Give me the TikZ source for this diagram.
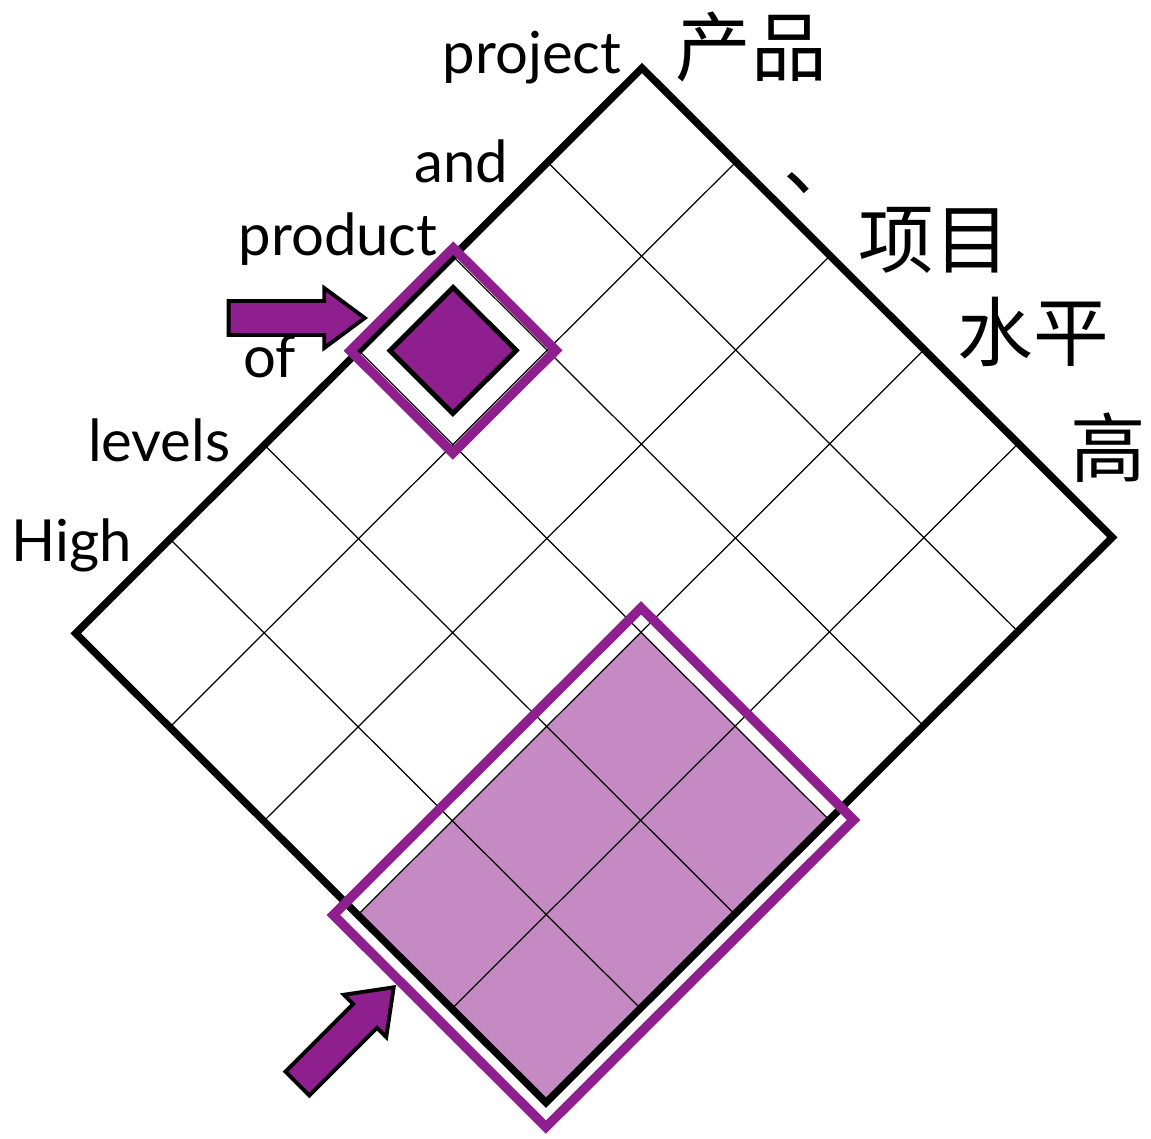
\documentclass[tikz,border=0pt]{standalone}
\usepackage{fontspec}
\setmainfont{Lato}
\newfontfamily\cjk{Noto Sans CJK SC}
\usetikzlibrary{shapes.arrows}

\definecolor{deepplum}{RGB}{143,31,143}
\definecolor{lightplum}{RGB}{197,138,195}

\tikzset{
	word/.style={font=\fontsize{16.5}{18}\selectfont, anchor=base east, inner sep=0pt},
	hanzi/.style={font=\cjk\fontsize{21.5}{24}\selectfont, inner sep=0pt},
	blockarrow/.style={single arrow, draw=black, fill=deepplum, line width=1.1pt, minimum height=1.36cm, inner sep=0.15cm, single arrow head extend=0.13cm, single arrow tip angle=73, anchor=tip},
	thingrid/.style={line width=0.35pt},
	frame/.style={line width=2.7pt, deepplum, line join=miter},
}

\begin{document}
\begin{tikzpicture}[x=0.01cm, y=-0.01cm]
	\def\cols{5};
	\def\rows{6};
	\def\pad{0.13};
	\useasboundingbox (0,0) rectangle (1151,1139);

	\begin{scope}[shift={(642,68)}, x={(0.94cm,-0.938cm)}, y={(-0.9433cm,-0.9417cm)}]
		\fill [lightplum] (3,3) -- (\cols,3) -- (\cols,\rows) -- (3,\rows) -- cycle;
		\foreach \i in {1,...,4}
			\draw [thingrid] (\i,0) -- (\i,\rows);
		\foreach \j in {1,...,5}
			\draw [thingrid] (0,\j) -- (\cols,\j);
		\draw [line width=2.1pt, line join=miter] (0,0) -- (\cols,0) -- (\cols,\rows) -- (0,\rows) -- cycle;

		\draw [line width=1.4pt, fill=deepplum, line join=miter] (0.165,2.165) -- (0.835,2.165) -- (0.835,2.835) -- (0.165,2.835) -- cycle;
		\draw [frame] (-0.045,1.955) -- (1.045,1.955) -- (1.045,3.045) -- (-0.045,3.045) -- cycle;
		\draw [frame] ({3-\pad},{3-\pad}) -- ({\cols+\pad},{3-\pad}) -- ({\cols+\pad},{\rows+\pad}) -- ({3-\pad},{\rows+\pad}) -- cycle;
	\end{scope}

	\node [blockarrow] (arrowTop) at (368,318) {};
	\node [blockarrow, rotate=45] (arrowBottom) at (396,985) {};

	\node [word] (wProject) at (622,73) {project};
	\node [word] (wAnd) at (509,182) {and};
	\node [word] (wProduct) at (438,255) {product};
	\node [word] (wOf) at (297,377) {of};
	\node [word] (wLevels) at (231,461) {levels};
	\node [word] (wHigh) at (133,561) {High};

	\node [hanzi] (zChanpin) at (751,47) {产品};
	\node [hanzi] (zDun) at (821,183) {、};
	\node [hanzi] (zXiangmu) at (934,240) {项目};
	\node [hanzi] (zShuiping) at (1033,332) {水平};
	\node [hanzi] (zGao) at (1108,448) {高};
\end{tikzpicture}
\end{document}
